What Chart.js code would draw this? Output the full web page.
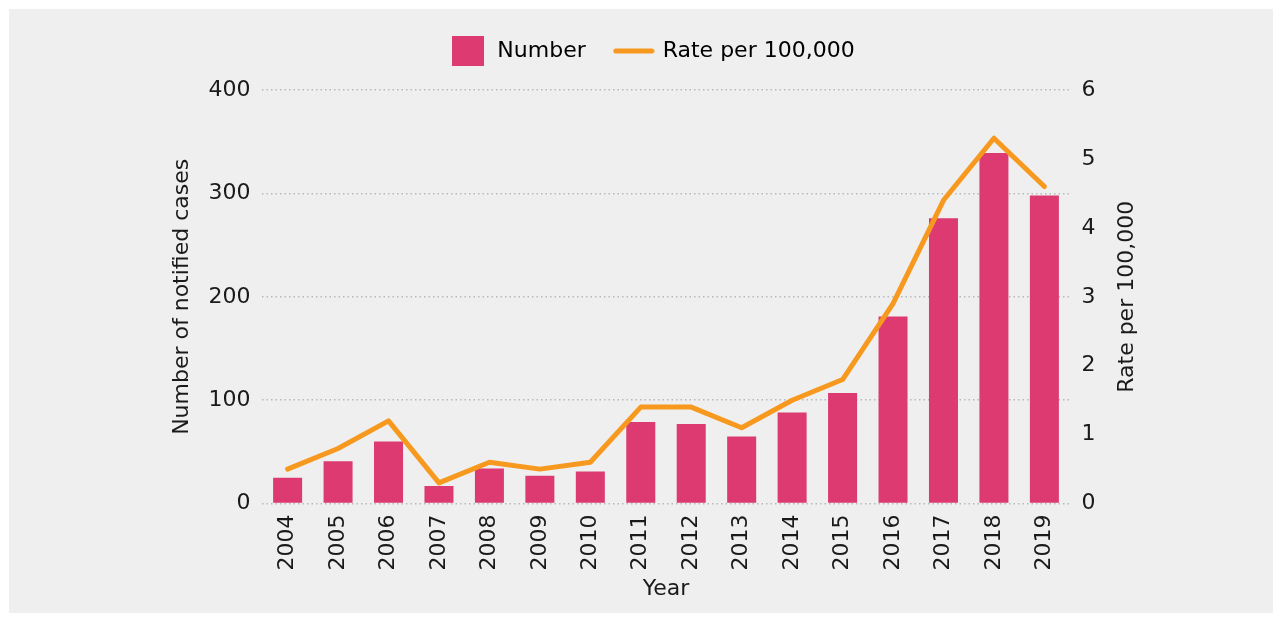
<!DOCTYPE html>
<html>
<head>
<meta charset="utf-8">
<script src="https://cdn.jsdelivr.net/npm/chart.js@4/dist/chart.umd.min.js"></script>
<style>
    body { margin: 0; background: #ffffff; }
    #wrap {
        position: absolute;
        left: 9px; top: 9px;
        width: 1264px; height: 604px;
        background: #efefef;
    }
</style>
</head>
<body>
<div id="wrap"><canvas id="graphCanvas" width="1264" height="604"></canvas></div>
<script>
const years = ['2004', '2005', '2006', '2007', '2008', '2009', '2010', '2011',
    '2012', '2013', '2014', '2015', '2016', '2017', '2018', '2019'];
const caseCounts = [25, 41, 60, 17, 34, 27, 31, 79, 77, 65, 88, 107, 181, 276, 339, 298];
const ratePer100k = [0.5, 0.8, 1.2, 0.3, 0.6, 0.5, 0.6, 1.4, 1.4, 1.1, 1.5, 1.8, 2.9, 4.4, 5.3, 4.6];

const BAR_COLOR = '#dc3a70';
const LINE_COLOR = '#f7991f';
const TEXT_COLOR = '#1a1a1a';
const FONT = '"DejaVu Sans", sans-serif';

Chart.defaults.color = TEXT_COLOR;
Chart.defaults.font.family = FONT;
Chart.defaults.font.size = 22;

// legend markers: a 32x30 square for the bars, a short thick stroke for the line
function makeMarker(w, h, draw) {
    const c = document.createElement('canvas');
    c.width = w;
    c.height = h;
    draw(c.getContext('2d'));
    return c;
}
const barMarker = makeMarker(32, 30, g => {
    g.fillStyle = BAR_COLOR;
    g.fillRect(0, 0, 32, 30);
});
const lineMarker = makeMarker(42, 6, g => {
    g.strokeStyle = LINE_COLOR;
    g.lineWidth = 5;
    g.lineCap = 'round';
    g.beginPath();
    g.moveTo(3, 3);
    g.lineTo(39, 3);
    g.stroke();
});

// right axis title reads bottom-to-top in the original, so draw it by hand
const rightTitle = {
    id: 'rightTitle',
    afterDraw(chart) {
        const y1 = chart.scales.y1;
        const c = chart.ctx;
        c.save();
        c.translate(y1.right - 13, (y1.top + y1.bottom) / 2);
        c.rotate(-Math.PI / 2);
        c.font = '22px ' + FONT;
        c.fillStyle = TEXT_COLOR;
        c.textAlign = 'center';
        c.textBaseline = 'middle';
        c.fillText('Rate per 100,000', 0, 0);
        c.restore();
    }
};

// extra room under the legend
const legendGap = {
    id: 'legendGap',
    beforeInit(chart) {
        const fit = chart.legend.fit;
        chart.legend.fit = function () {
            fit.call(this);
            this.height += 18;
        };
    }
};

const ctx = document.getElementById('graphCanvas');

new Chart(ctx, {
    type: 'bar',
    data: {
        labels: years,
        datasets: [
            {
                type: 'line',
                label: 'Rate per 100,000',
                data: ratePer100k,
                yAxisID: 'y1',
                borderColor: LINE_COLOR,
                backgroundColor: LINE_COLOR,
                borderWidth: 5,
                borderCapStyle: 'round',
                borderJoinStyle: 'round',
                pointRadius: 0,
                tension: 0,
                order: 0
            },
            {
                label: 'Number',
                data: caseCounts,
                yAxisID: 'y',
                backgroundColor: BAR_COLOR,
                barPercentage: 0.575,
                categoryPercentage: 1,
                order: 1
            }
        ]
    },
    options: {
        responsive: false,
        animation: false,
        layout: {
            padding: { left: 156, right: 133, top: 1, bottom: 11 }
        },
        scales: {
            x: {
                grid: { display: false },
                border: { display: false },
                ticks: {
                    maxRotation: 90,
                    minRotation: 90,
                    padding: 3
                },
                title: {
                    display: true,
                    text: 'Year',
                    padding: { top: 2, bottom: 0 }
                }
            },
            y: {
                position: 'left',
                min: 0,
                max: 400,
                ticks: { stepSize: 100, padding: 12 },
                grid: {
                    color: '#b9b9b9',
                    lineWidth: 1.5,
                    drawTicks: false
                },
                border: { display: false, dash: [1.5, 3] },
                title: {
                    display: true,
                    text: 'Number of notified cases',
                    padding: { bottom: 1 }
                }
            },
            y1: {
                position: 'right',
                min: 0,
                max: 6,
                ticks: { stepSize: 1, padding: 12 },
                grid: { display: false, drawTicks: false },
                border: { display: false },
                title: {
                    display: true,
                    text: ' ',
                    padding: { top: 2 }
                }
            }
        },
        plugins: {
            tooltip: { enabled: false },
            legend: {
                position: 'top',
                reverse: true,
                labels: {
                    color: TEXT_COLOR,
                    usePointStyle: true,
                    pointStyleWidth: 36,
                    padding: 30,
                    generateLabels(chart) {
                        return chart.data.datasets.map((ds, i) => ({
                            text: ds.label,
                            fillStyle: ds.type === 'line' ? LINE_COLOR : BAR_COLOR,
                            strokeStyle: ds.type === 'line' ? LINE_COLOR : BAR_COLOR,
                            lineWidth: 0,
                            pointStyle: ds.type === 'line' ? lineMarker : barMarker,
                            datasetIndex: i,
                            hidden: false
                        }));
                    }
                }
            }
        }
    },
    plugins: [rightTitle, legendGap]
});
</script>
</body>
</html>
